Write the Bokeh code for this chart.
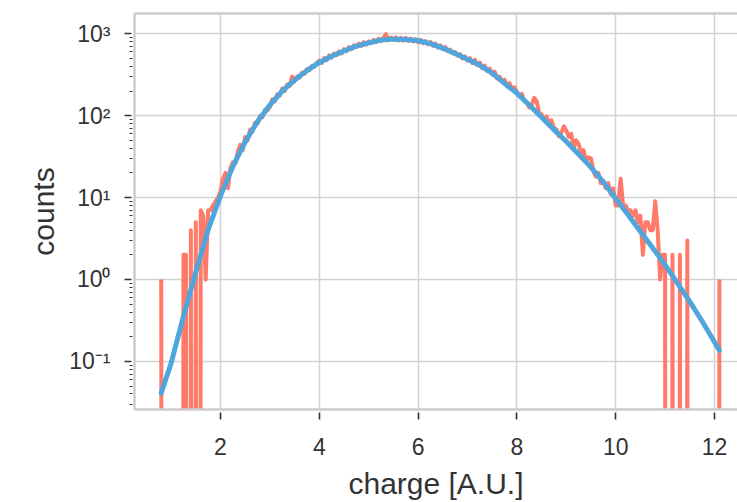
import numpy as np
from bokeh.plotting import figure
from bokeh.models import Range1d, LinearAxis, FixedTicker, CustomJSTickFormatter, ColumnDataSource
from bokeh.embed import file_html
from bokeh.resources import INLINE

# ---------------- data ----------------
bin_start = 0.80
bin_width = 0.05
counts = [
    1, 0, 0, 0,
    0, 0, 0, 0, 0, 2, 2, 0, 4, 0, 5, 0, 7, 6, 1, 7, 7, 8, 9, 10,
    12, 17, 20, 13, 23, 27, 26, 36, 44, 38, 55, 50, 68, 64, 82, 80, 100, 96, 118, 116,
    128, 158, 150, 182, 176, 215, 200, 240, 232, 300, 262, 300, 292, 335, 325, 372, 360, 405, 398, 440,
    470, 440, 505, 478, 545, 515, 575, 548, 610, 575, 650, 612, 690, 648, 725, 690, 760, 712, 790, 740,
    810, 770, 845, 790, 870, 815, 890, 990, 830, 900, 845, 905, 830, 895, 825, 890, 820, 875, 808, 862,
    790, 845, 770, 815, 745, 795, 715, 760, 680, 720, 650, 690, 610, 640, 575, 600, 540, 565, 500, 530,
    470, 505, 440, 480, 415, 445, 380, 410, 350, 375, 318, 345, 285, 300, 258, 275, 228, 250, 212, 222,
    196, 172, 185, 150, 145, 126, 135, 165, 150, 108, 104, 90, 98, 80, 88, 70, 68, 56, 62, 74,
    66, 55, 60, 40, 50, 45, 34, 38, 28, 31, 30, 21, 18, 20, 15, 16, 13, 15, 11, 13,
    8, 8, 17, 8, 8, 7, 7, 6, 7, 5, 6, 2, 5, 5, 4, 4, 9, 4, 1, 2,
    2, 0, 0, 2, 0, 0, 2, 0, 0, 3, 0, 0, 0, 0, 0, 0, 0, 0, 0, 0,
    0, 0, 1,
]

fit_x = [0.80, 1.00, 1.25, 1.50, 1.75, 2.00, 2.25, 2.50, 2.75, 3.00, 3.25, 3.50, 3.75,
         4.00, 4.25, 4.50, 4.75, 5.00, 5.25, 5.50, 5.75, 6.00, 6.25, 6.50, 6.75,
         7.00, 7.25, 7.50, 7.75, 8.00, 8.25, 8.50, 8.75, 9.00, 9.25, 9.50, 9.75,
         10.00, 10.25, 10.50, 10.75, 11.00, 11.25, 11.50, 11.75, 12.00, 12.10]
fit_y = [0.041, 0.095, 0.355, 1.23, 4.07, 10.5, 24.0, 47.9, 85.1, 135, 200, 272, 355,
         447, 531, 617, 708, 776, 841, 861, 851, 822, 759, 668, 575,
         490, 412, 331, 248, 188, 135, 95.5, 67.6, 48.4, 33.9, 23.4, 15.5,
         9.77, 6.17, 3.85, 2.43, 1.51, 0.90, 0.537, 0.309, 0.172, 0.136]

x_ticks = [2, 4, 6, 8, 10, 12]
y_ticks = [0.1, 1, 10, 100, 1000]
x_label = "charge [A.U.]"
y_label = "counts"

# ---------------- styling ----------------
RED = "#ff7a68"
BLUE = "#4ea6dc"
FRAME = "#cccccc"
GRID = "#d2d2d2"
TXT = "#333333"
FONT = "Liberation Sans"

charge = np.round(bin_start + bin_width * np.arange(len(counts)), 3)
cnt = np.array(counts, dtype=float)
cnt_plot = np.where(cnt > 0, cnt, 1e-30)  # empty bins fall far below the axis (clipped like log 'clip')

p = figure(width=737, height=502,
           x_range=Range1d(0.259, 12.466),
           y_range=Range1d(10 ** -1.588, 10 ** 3.248),
           y_axis_type="log",
           output_backend="svg", toolbar_location=None,
           min_border_left=134, min_border_right=0, min_border_top=13, min_border_bottom=90)

p.background_fill_color = "white"
p.border_fill_color = "white"
p.outline_line_color = None

src = ColumnDataSource(dict(x=charge, y=cnt_plot))
p.line("x", "y", source=src, line_color=RED, line_width=4, line_join="round")
p.line(fit_x, fit_y, line_color=BLUE, line_width=5, line_join="round", line_cap="round")

minor = [m * 10.0 ** e for e in range(-2, 4) for m in range(2, 10)]

xa = p.xaxis[0]
xa.ticker = FixedTicker(ticks=x_ticks)
ya = p.yaxis[0]
ya.ticker = FixedTicker(ticks=y_ticks, minor_ticks=minor)
ya.formatter = CustomJSTickFormatter(code="""
const sup = {"-": "\u207b", "0": "\u2070", "1": "\u00b9", "2": "\u00b2", "3": "\u00b3",
             "4": "\u2074", "5": "\u2075", "6": "\u2076", "7": "\u2077", "8": "\u2078", "9": "\u2079"};
const e = Math.round(Math.log10(tick));
return "10" + String(e).split("").map(c => sup[c]).join("");
""")

for ax in (xa, ya):
    ax.axis_line_color = FRAME
    ax.axis_line_width = 2.5
    ax.major_tick_line_color = TXT
    ax.major_tick_line_width = 1.6
    ax.major_tick_in = -3
    ax.major_tick_out = 10
    ax.minor_tick_line_color = TXT
    ax.minor_tick_line_width = 1.2
    ax.minor_tick_in = -2
    ax.minor_tick_out = 5
    ax.major_label_text_font = FONT
    ax.major_label_text_font_size = "23px"
    ax.major_label_text_color = TXT
    ax.axis_label_text_font = FONT
    ax.axis_label_text_font_size = "30px"
    ax.axis_label_text_font_style = "normal"
    ax.axis_label_text_color = TXT

xa.minor_tick_line_color = None
xa.axis_label = x_label
ya.axis_label = y_label
xa.major_label_standoff = 18
ya.major_label_standoff = 14
xa.axis_label_standoff = 9
ya.axis_label_standoff = 6

top = LinearAxis(ticker=FixedTicker(ticks=[]), axis_line_color=FRAME, axis_line_width=2.5,
                 major_tick_line_color=None, minor_tick_line_color=None,
                 major_label_text_font_size="0px")
p.add_layout(top, "above")

p.xgrid.ticker = FixedTicker(ticks=x_ticks)
p.ygrid.ticker = FixedTicker(ticks=y_ticks)
for g in (p.xgrid[0], p.ygrid[0]):
    g.grid_line_color = GRID
    g.grid_line_width = 1.5

open("out.html", "w").write(file_html(p, INLINE))
